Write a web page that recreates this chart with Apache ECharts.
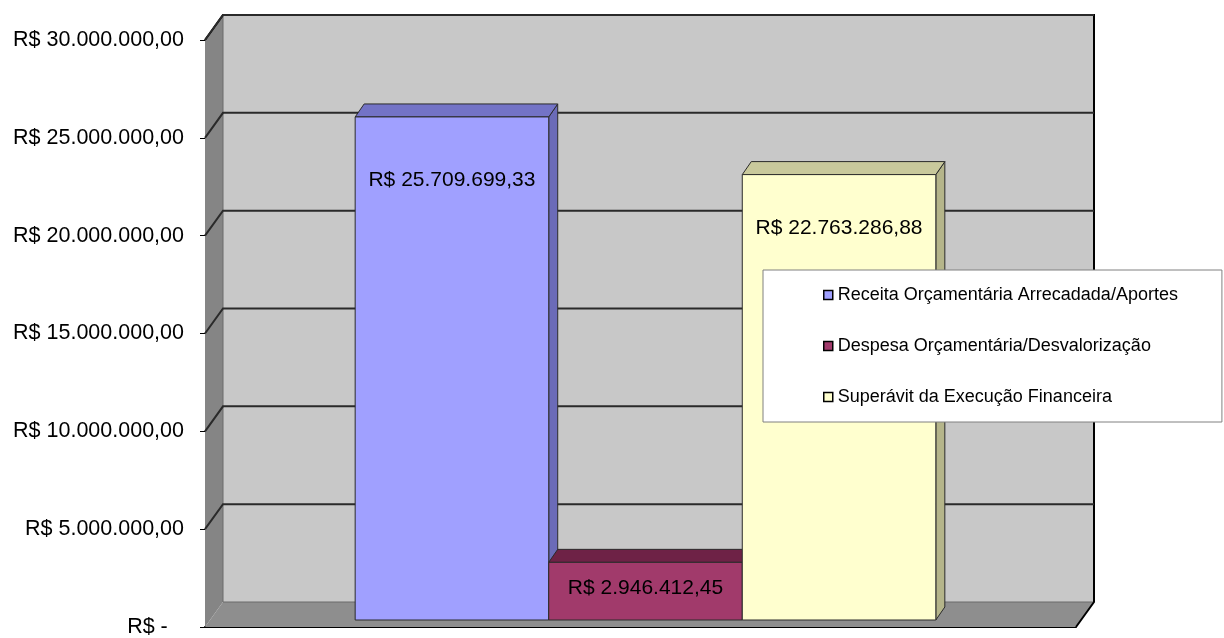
<!DOCTYPE html>
<html>
<head>
<meta charset="utf-8">
<script src="https://cdn.jsdelivr.net/npm/echarts@6/dist/echarts.min.js"></script>
<style>
html,body{margin:0;padding:0;background:#fff;}
#chart{width:1224px;height:638px;}
</style>
</head>
<body>
<div id="chart"></div>
<script>
// ---- data ----
const categories = [''];
const seriesNames = [
  'Receita Orçamentária Arrecadada/Aportes',
  'Despesa Orçamentária/Desvalorização',
  'Superávit da Execução Financeira'
];
const seriesValues = [25709699.33, 2946412.45, 22763286.88];
const yTicks = [0, 5000000, 10000000, 15000000, 20000000, 25000000, 30000000];

// ---- styles ----
const frontColors = ['#a0a0ff', '#a13a6b', '#ffffcf'];
const topColors = ['#7373c6', '#6e2246', '#c9c99c'];
const sideColors = ['#6b6bb8', '#5c1c3b', '#b5b58a'];
const labelDrop = [63, 26, 54];
const DX = 18, DY = -25;          // depth of the plot box
const BF = [5, -7], BB = [14, -20]; // bar front/back depth offsets
const FONT = 'Arial, "Liberation Sans", sans-serif';

function brNum(v) {
  const neg = v < 0; v = Math.abs(v);
  let [i, d] = v.toFixed(2).split('.');
  i = i.replace(/\B(?=(\d{3})+(?!\d))/g, '.');
  return (neg ? '-' : '') + i + ',' + d;
}
function money(v) { return v === 0 ? 'R$ -  \u2009' : 'R$ ' + brNum(v); }

const chart = echarts.init(document.getElementById('chart'));

function wallsRender(params, api) {
  const cs = params.coordSys;
  const L = cs.x, R = cs.x + cs.width, T = cs.y, B = cs.y + cs.height;
  const idx = params.dataIndex;
  const v = api.value(0);
  const y = api.coord([0, v])[1];
  const children = [];
  if (idx === 0) {
    children.push({type: 'polygon', shape: {points: [[L + DX, T + DY], [R + DX, T + DY], [R + DX, B + DY], [L + DX, B + DY]]},
      style: {fill: '#c8c8c8'}});
    children.push({type: 'polygon', shape: {points: [[L, T], [L + DX, T + DY], [L + DX, B + DY], [L, B]]},
      style: {fill: '#858585'}});
    children.push({type: 'polygon', shape: {points: [[L, B], [L + DX, B + DY], [R + DX, B + DY], [R, B]]},
      style: {fill: '#8e8e8e'}});
    children.push({type: 'polyline', shape: {points: [[L + DX, T + DY], [L + DX, B + DY], [R + DX, B + DY]]},
      style: {stroke: '#6a6a6a', lineWidth: 1, fill: null}});
    children.push({type: 'polyline', shape: {points: [[L, T], [L + DX, T + DY], [R + DX, T + DY], [R + DX, B + DY], [R, B]]},
      style: {stroke: '#000', lineWidth: 2, fill: null}});
  } else {
    children.push({type: 'polyline', shape: {points: [[L, y], [L + DX, y + DY], [R + DX, y + DY]]},
      style: {stroke: '#2a2a2a', lineWidth: 2, fill: null}});
  }
  return {type: 'group', children: children};
}

function barRender(params, api) {
  const k = params.seriesIndex - 1;
  const v = api.value(1);
  const base = api.coord([0, 0]);
  const topY = api.coord([0, v])[1];
  const band = api.size([1, 0])[0];
  const w = band / 4.5;
  const x0 = base[0] - 1.5 * w + k * w;
  const by = base[1];
  const stroke = '#2b2b2b';
  const fx = x0 + BF[0], fy = BF[1], bx = x0 + BB[0], byy = BB[1];
  return {type: 'group', children: [
    {type: 'polygon', shape: {points: [[fx + w, topY + fy], [bx + w, topY + byy], [bx + w, by + byy], [fx + w, by + fy]]},
      style: {fill: sideColors[k], stroke: stroke, lineWidth: 1}},
    {type: 'polygon', shape: {points: [[fx, topY + fy], [fx + w, topY + fy], [bx + w, topY + byy], [bx, topY + byy]]},
      style: {fill: topColors[k], stroke: stroke, lineWidth: 1}},
    {type: 'rect', shape: {x: fx, y: topY + fy, width: w, height: by - topY},
      style: {fill: frontColors[k], stroke: stroke, lineWidth: 1}},
    {type: 'text', x: fx + w / 2, y: topY + fy + labelDrop[k],
      style: {text: 'R$ ' + brNum(v), fill: '#000', font: '21px ' + FONT, align: 'center', verticalAlign: 'middle'}}
  ]};
}

const series = [{
  type: 'custom', name: '__walls', silent: true, z: 1,
  renderItem: wallsRender,
  data: yTicks.map(t => [t])
}];
seriesNames.forEach((n, k) => {
  series.push({
    type: 'custom', name: n, z: 2 + k,
    itemStyle: {color: frontColors[k]},
    renderItem: barRender,
    data: [[0, seriesValues[k]]]
  });
});

chart.setOption({
  animation: false,
  backgroundColor: '#fff',
  grid: {left: 205, right: 148, top: 40, bottom: 7},
  xAxis: {
    type: 'category', data: categories,
    axisLine: {show: true, lineStyle: {color: '#000', width: 2}},
    axisTick: {show: false}, axisLabel: {show: false}, splitLine: {show: false}
  },
  yAxis: {
    type: 'value', min: 0, max: 30000000, interval: 5000000,
    axisLine: {show: true, lineStyle: {color: '#000', width: 1}},
    axisTick: {show: true, length: 5, lineStyle: {color: '#000'}},
    axisLabel: {margin: 21, formatter: money, color: '#000', fontSize: 21.5, fontFamily: FONT},
    splitLine: {show: false}
  },
  legend: {
    z: 20, zlevel: 0,
    orient: 'vertical', left: 763, top: 270,
    padding: [16, 44, 16, 60], itemGap: 33,
    itemWidth: 9, itemHeight: 9, icon: 'rect',
    backgroundColor: '#fff', borderColor: '#808080', borderWidth: 1,
    textStyle: {fontFamily: FONT, fontSize: 18, color: '#000'},
    data: seriesNames.map(n => ({name: n, itemStyle: {borderColor: '#000', borderWidth: 1.5}}))
  },
  series: series
});
</script>
</body>
</html>
